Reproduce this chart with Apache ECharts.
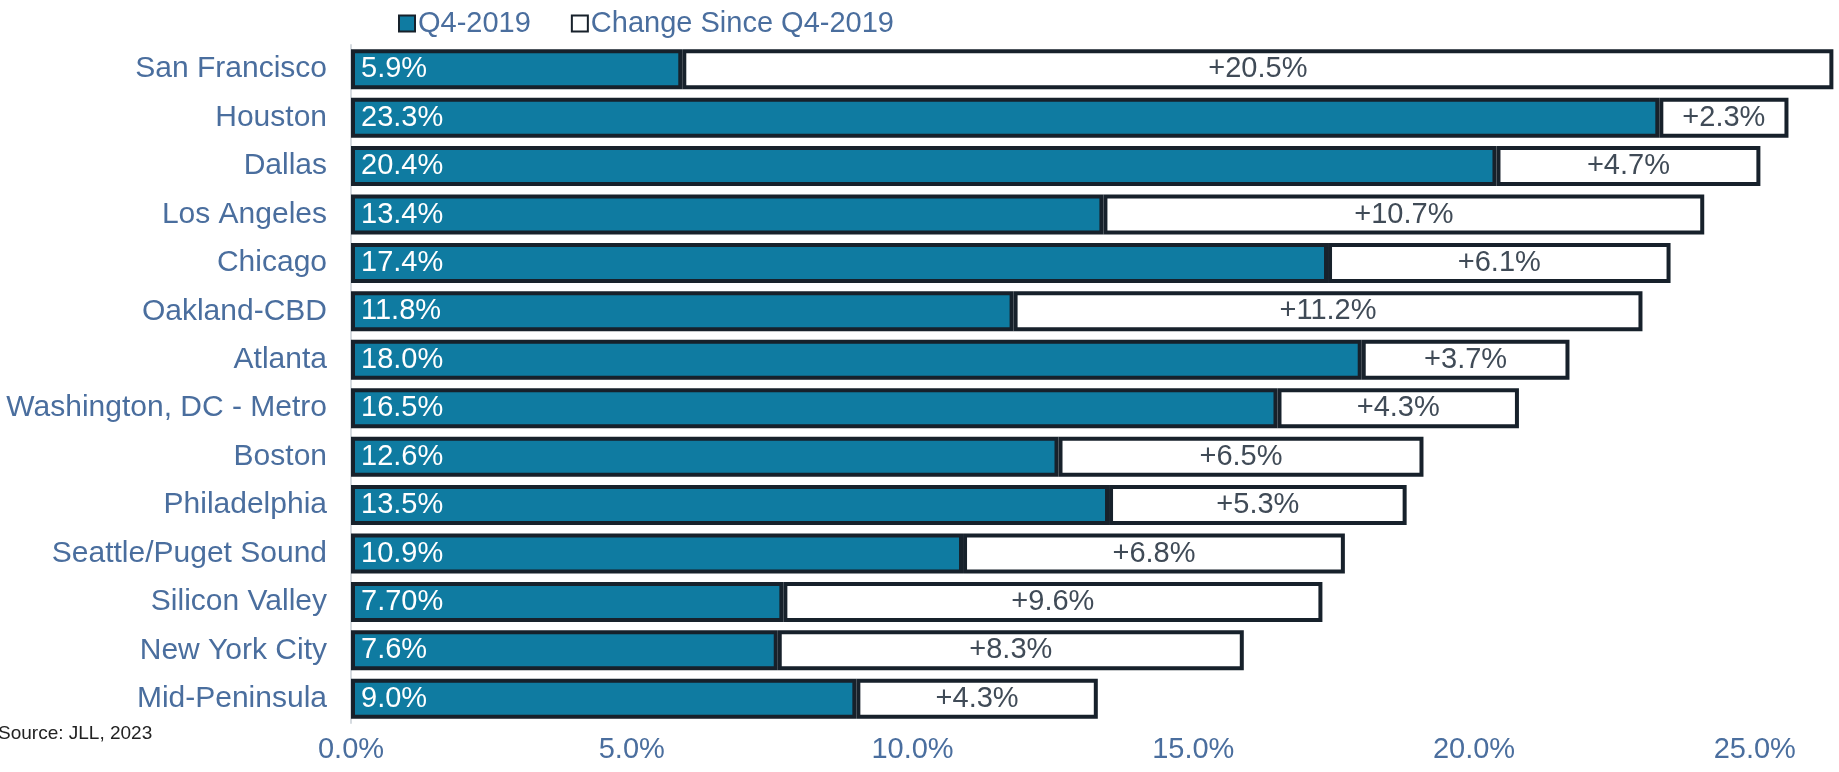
<!DOCTYPE html>
<html>
<head>
<meta charset="utf-8">
<script src="https://cdn.jsdelivr.net/npm/echarts@6/dist/echarts.min.js"></script>
<style>
html,body{margin:0;padding:0;background:#fff;}
#chart{width:1839px;height:772px;}
</style>
</head>
<body>
<div id="chart"></div>
<script>
var categories = ["San Francisco","Houston","Dallas","Los Angeles","Chicago","Oakland-CBD","Atlanta","Washington, DC - Metro","Boston","Philadelphia","Seattle/Puget Sound","Silicon Valley","New York City","Mid-Peninsula"];
var q4Values = [5.9,23.3,20.4,13.4,17.4,11.8,18.0,16.5,12.6,13.5,10.9,7.70,7.6,9.0];
var q4Labels = ["5.9%","23.3%","20.4%","13.4%","17.4%","11.8%","18.0%","16.5%","12.6%","13.5%","10.9%","7.70%","7.6%","9.0%"];
var changeValues = [20.5,2.3,4.7,10.7,6.1,11.2,3.7,4.3,6.5,5.3,6.8,9.6,8.3,4.3];
var changeLabels = ["+20.5%","+2.3%","+4.7%","+10.7%","+6.1%","+11.2%","+3.7%","+4.3%","+6.5%","+5.3%","+6.8%","+9.6%","+8.3%","+4.3%"];
var xTicks = [0,5,10,15,20,25];

var FONT = '"Liberation Sans", Arial, sans-serif';
var labelBlue = '#4a6e9e';
var teal = '#0f7ba1';
var dark = '#17212b';

var chart = echarts.init(document.getElementById('chart'));
chart.setOption({
  animation: false,
  textStyle: {fontFamily: FONT},
  legend: {
    left: 393, top: 4,
    itemWidth: 16, itemHeight: 16, itemGap: 40,
    icon: 'rect',
    textStyle: {fontSize: 29, color: labelBlue, fontFamily: FONT, padding: [0,0,0,-2]},
    data: ['Q4-2019','Change Since Q4-2019']
  },
  grid: {left: 351, right: 0, top: 45, bottom: 49, containLabel: false, outerBoundsMode: 'none'},
  xAxis: {
    type: 'value', min: 0, max: 26.5, interval: 5,
    splitLine: {show: false},
    axisLine: {show: false}, axisTick: {show: false},
    axisLabel: {
      fontSize: 29, color: labelBlue, fontFamily: FONT, margin: 12,
      formatter: function (v) { return xTicks.indexOf(v) >= 0 ? v.toFixed(1) + '%' : ''; }
    }
  },
  yAxis: {
    type: 'category', inverse: true, data: categories,
    axisLine: {show: true, lineStyle: {color: '#d6dbe0', width: 2}},
    axisTick: {show: false},
    axisLabel: {fontSize: 30, color: labelBlue, fontFamily: FONT, margin: 24}
  },
  series: [
    {
      name: 'Q4-2019', type: 'bar', stack: 'total', barWidth: 40,
      data: q4Values,
      itemStyle: {color: teal, borderColor: dark, borderWidth: 4},
      label: {
        show: true, position: 'insideLeft', distance: 10,
        fontSize: 29, color: '#ffffff', fontFamily: FONT,
        formatter: function (p) { return q4Labels[p.dataIndex]; }
      }
    },
    {
      name: 'Change Since Q4-2019', type: 'bar', stack: 'total', barWidth: 40,
      data: changeValues,
      itemStyle: {color: '#ffffff', borderColor: dark, borderWidth: 4},
      label: {
        show: true, position: 'inside',
        fontSize: 29, color: '#404b57', fontFamily: FONT,
        formatter: function (p) { return changeLabels[p.dataIndex]; }
      }
    }
  ],
  graphic: [
    {type: 'text', left: -2, top: 724, style: {text: 'Source: JLL, 2023', fontSize: 19, fill: '#222222', fontFamily: FONT}}
  ]
});
</script>
</body>
</html>
